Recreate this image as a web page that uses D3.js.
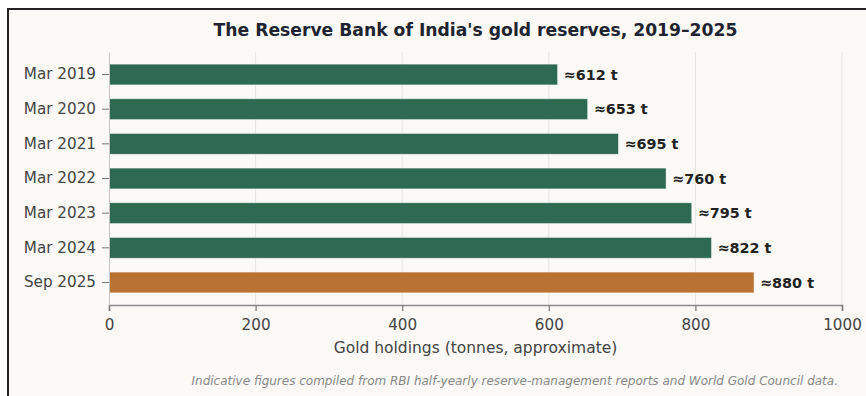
<!DOCTYPE html>
<html>
<head>
<meta charset="utf-8">
<script src="https://cdn.jsdelivr.net/npm/d3@7"></script>
<style>
  html, body { margin: 0; padding: 0; background: #fff; }
  svg { display: block; font-family: "DejaVu Sans", sans-serif; }
</style>
</head>
<body>
<script>
const categories = ['Mar 2019', 'Mar 2020', 'Mar 2021', 'Mar 2022', 'Mar 2023', 'Mar 2024', 'Sep 2025'];
const tonnes = [612, 653, 695, 760, 795, 822, 880];
const xTicks = [0, 200, 400, 600, 800, 1000];

const width = 866, height = 396;
const margin = { top: 52, right: 24, bottom: 91, left: 109 };

const svg = d3.select('body').append('svg')
  .attr('width', width)
  .attr('height', height);

// frame (screenshot border)
svg.append('rect').attr('x', 0).attr('y', 0).attr('width', width).attr('height', height).attr('fill', '#fff');
svg.append('rect').attr('x', 8).attr('y', 9).attr('width', width).attr('height', height)
  .attr('fill', '#faf9f6').attr('stroke', '#222').attr('stroke-width', 2);

const x = d3.scaleLinear().domain([0, 1000]).range([margin.left, width - margin.right]);
const y = d3.scaleBand().domain(categories)
  .range([margin.top, height - margin.bottom])
  .paddingInner(0.4).paddingOuter(0.35);

// gridlines
svg.append('g').selectAll('line').data(xTicks.slice(1)).join('line')
  .attr('x1', d => x(d)).attr('x2', d => x(d))
  .attr('y1', margin.top).attr('y2', height - margin.bottom)
  .attr('stroke', '#e8e6e1').attr('stroke-width', 1);

// bars
svg.append('g').selectAll('rect').data(categories).join('rect')
  .attr('x', x(0))
  .attr('y', d => y(d))
  .attr('width', (d, i) => x(tonnes[i]) - x(0))
  .attr('height', y.bandwidth())
  .attr('fill', (d, i) => i === categories.length - 1 ? '#b87333' : '#2e6a4f')
  .attr('stroke', 'rgba(255,255,255,0.55)')
  .attr('stroke-width', 0.8);

// value labels
svg.append('g').selectAll('text').data(categories).join('text')
  .attr('x', (d, i) => x(tonnes[i]) + 6)
  .attr('y', d => y(d) + y.bandwidth() / 2)
  .attr('dy', '0.36em')
  .attr('font-size', 14.4)
  .attr('font-weight', 'bold')
  .attr('fill', '#222')
  .text((d, i) => `≈${tonnes[i]} t`);

// x axis
const xAxis = svg.append('g')
  .attr('transform', `translate(0,${height - margin.bottom})`)
  .call(d3.axisBottom(x).tickValues(xTicks).tickFormat(d3.format('d')).tickSize(6).tickPadding(8));
xAxis.select('.domain').attr('stroke', '#8a8a8a').attr('stroke-width', 1.6);
xAxis.selectAll('.tick line').attr('stroke', '#777').attr('stroke-width', 1.2);
xAxis.selectAll('.tick text').attr('font-size', 15.2).attr('fill', '#444')
  .attr('font-family', '"DejaVu Sans", sans-serif');

// y axis
const yAxis = svg.append('g')
  .attr('transform', `translate(${margin.left},0)`)
  .call(d3.axisLeft(y).tickSize(7).tickPadding(6).tickSizeOuter(0));
yAxis.select('.domain').attr('stroke', '#c4c4c4').attr('stroke-width', 1);
yAxis.selectAll('.tick line').attr('stroke', '#777');
yAxis.selectAll('.tick text').attr('font-size', 15.2).attr('fill', '#444')
  .attr('font-family', '"DejaVu Sans", sans-serif');

// title
svg.append('text')
  .attr('x', (margin.left + width - margin.right) / 2)
  .attr('y', 36)
  .attr('text-anchor', 'middle')
  .attr('font-size', 17.2)
  .attr('font-weight', 'bold')
  .attr('fill', '#1f2430')
  .text("The Reserve Bank of India's gold reserves, 2019–2025");

// axis label
svg.append('text')
  .attr('x', (margin.left + width - margin.right) / 2)
  .attr('y', 353)
  .attr('text-anchor', 'middle')
  .attr('font-size', 15.5)
  .attr('fill', '#444')
  .text('Gold holdings (tonnes, approximate)');

// footnote
svg.append('text')
  .attr('x', 838)
  .attr('y', 385)
  .attr('text-anchor', 'end')
  .attr('font-size', 12)
  .attr('font-style', 'italic')
  .attr('fill', '#888')
  .text('Indicative figures compiled from RBI half-yearly reserve-management reports and World Gold Council data.');
</script>
</body>
</html>
